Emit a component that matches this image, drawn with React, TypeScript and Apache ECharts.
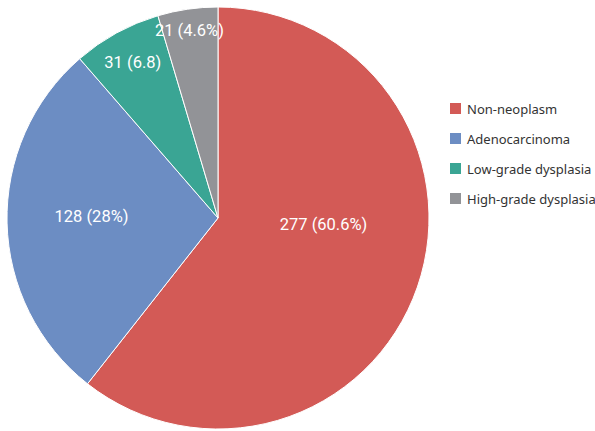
import React, { useEffect, useRef } from "react";
import * as echarts from "echarts";

const categories = ["Non-neoplasm", "Adenocarcinoma", "Low-grade dysplasia", "High-grade dysplasia"];
const values = [277, 128, 31, 21];
const labelTexts = ["277 (60.6%)", "128 (28%)", "31 (6.8)", "21 (4.6%)"];
const colors = ["#D35A56", "#6C8DC3", "#3AA594", "#929397"];
const labelOffsets = [[3, -29], [-18, -4], [-33, -60], [-13, -80]];

export default function App() {
  const ref = useRef<HTMLDivElement>(null);
  useEffect(() => {
    if (!ref.current) return;
    const chart = echarts.init(ref.current, null, { renderer: "svg" });
    chart.setOption({
      animation: false,
      legend: {
        orient: "vertical",
        left: 448,
        top: 101,
        padding: 0,
        itemWidth: 13,
        itemHeight: 13,
        itemGap: 15,
        icon: "rect",
        textStyle: { fontFamily: "Noto Sans", fontSize: 13, color: "#333" },
        data: categories,
      },
      series: [
        {
          type: "pie",
          center: [218, 218],
          radius: [0, 211],
          startAngle: 90,
          clockwise: true,
          label: {
            show: true,
            position: "inside",
            color: "#fff",
            fontFamily: "Roboto",
            fontSize: 16.5,
            formatter: (p: any) => labelTexts[p.dataIndex],
          },
          labelLine: { show: false },
          itemStyle: { borderColor: "#fff", borderWidth: 1 },
          emphasis: { disabled: true },
          data: categories.map((name, i) => ({
            name,
            value: values[i],
            itemStyle: { color: colors[i] },
            label: { offset: labelOffsets[i] },
          })),
        },
      ],
    });
    return () => chart.dispose();
  }, []);
  return <div ref={ref} style={{ position: "absolute", left: 0, top: 0, width: 595, height: 431 }} />;
}
